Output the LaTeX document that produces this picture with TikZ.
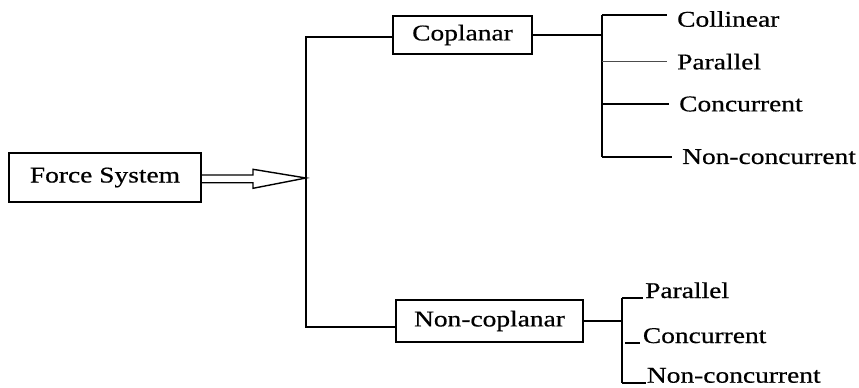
\documentclass[tikz,border=0pt]{standalone}
\usepackage{fontspec}
\newfontfamily\diagfont{Liberation Serif}[FakeStretch=1.22, FakeBold=0.6]
\usetikzlibrary{positioning}

\begin{document}
\begin{tikzpicture}[
    x=1pt, y=-1pt,
    box/.style={rectangle, draw, line width=1.8pt, inner sep=0pt},
    leaf/.style={inner ysep=0pt, inner xsep=#1},
    leaf/.default=10pt,
    wire/.style={line width=2pt},
    thinwire/.style={line width=1pt, black!70},
    hollow/.style={line width=1.4pt, line join=miter},
    font=\diagfont\fontsize{22.5}{27}\selectfont
]
\useasboundingbox (0,0) rectangle (859,388);

%% ── Boxes ────────────────────────────────────────────────────────
\node[box, minimum width=192, minimum height=49] (force) at (105,177.5) {Force System};
\node[box, minimum width=139, minimum height=38] (cop)   at (462.5,35)  {Coplanar};
\node[box, minimum width=187, minimum height=42] (ncop)  at (489.5,321) {Non-coplanar};

%% ── Hollow arrow into the main split ────────────────────────────
\coordinate (tip) at (306,178);
\coordinate (sh1) at (253,175);
\coordinate (sh2) at (253,182.7);
\draw[hollow] (force.east |- sh1) -- (sh1) -- (253,169.3) -- (tip)
              -- (253,188.3) -- (sh2) -- (force.east |- sh2);

%% ── Main split ──────────────────────────────────────────────────
\coordinate (top) at (306,36.5);
\coordinate (bot) at (306,326.5);
\draw[wire] (top -| cop.west) -- (top) -- (bot) -- (bot -| ncop.west);

%% ── Coplanar leaves ─────────────────────────────────────────────
\coordinate (c1) at (602,15);
\coordinate (c2) at (602,61.7);
\coordinate (c3) at (602,104);
\coordinate (c4) at (602,156.7);

\node[leaf, anchor=west] (col)   at (667,19)    {Collinear};
\node[leaf, anchor=west] (cpar)  at (667,61.7)  {Parallel};
\node[leaf, anchor=west] (ccon)  at (669,104)   {Concurrent};
\node[leaf, anchor=west] (cncon) at (672,156.7) {Non-concurrent};

\draw[wire] (cop.east) -- (cop.east -| c1);
\draw[wire] (c1) -- (c4);
\draw[wire] (c1) -- (c1 -| col.west);
\draw[thinwire] (c2) -- (cpar.west);
\draw[wire] (c3) -- (ccon.west);
\draw[wire] (c4) -- (cncon.west);

%% ── Non-coplanar leaves ─────────────────────────────────────────
\coordinate (nj) at (622,320);
\coordinate (n1) at (622,298);
\coordinate (n2) at (622,343);
\coordinate (n3) at (622,382.7);

\node[leaf=2pt, anchor=base west] (npar)  at (643,298)   {Parallel};
\node[leaf=3pt, anchor=base west] (ncon)  at (639.7,343) {Concurrent};
\node[leaf=1pt, anchor=base west] (nncon) at (645.7,382.7) {Non-concurrent};

\draw[wire] (ncop.east) -- (ncop.east -| nj);
\draw[wire] (n1) -- (n3);
\draw[wire] (n1) -- (npar.base west);
\draw[wire] (n3) -- (nncon.base west);
\draw[wire] ([xshift=3pt]n2) -- (ncon.base west);
\end{tikzpicture}
\end{document}
